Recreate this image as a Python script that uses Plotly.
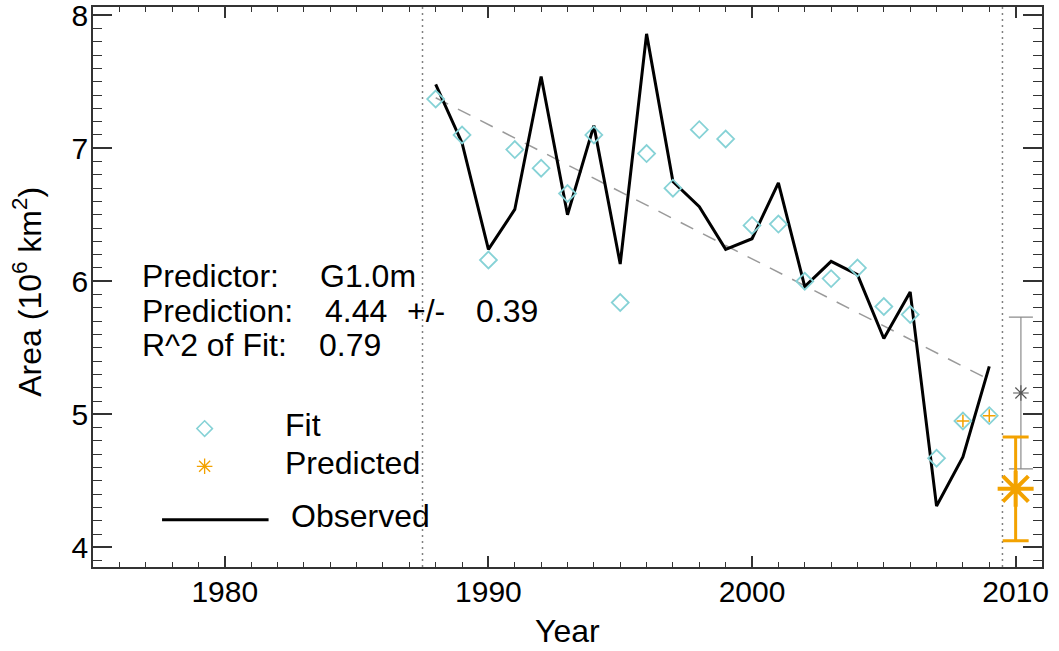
import plotly.graph_objects as go

# ---------------- data ----------------
years = list(range(1988, 2010))
observed = [7.48, 7.04, 6.24, 6.54, 7.54, 6.50, 7.17, 6.13, 7.86, 6.75, 6.56,
            6.24, 6.32, 6.74, 5.96, 6.15, 6.05, 5.57, 5.92, 4.31, 4.68, 5.36]
fit = [7.37, 7.10, 6.16, 6.99, 6.85, 6.66, 7.10, 5.84, 6.96, 6.70, 7.14,
       7.07, 6.42, 6.43, 6.00, 6.02, 6.10, 5.81, 5.75, 4.67, 4.95, 4.99]
trend_years = [1988, 2009]
trend_vals = [7.38, 5.26]
recent_pred_years = [2008, 2009]
recent_pred_vals = [4.95, 4.99]
pred_year = [2010]
pred_val = [4.44]
pred_err = [0.39]
alt_year = [2010.2]
alt_val = [5.16]
alt_err = [0.57]
divider_years = [1987.5, 2009.5]
x_tickvals = [1980, 1990, 2000, 2010]
y_tickvals = [4, 5, 6, 7, 8]

predictor = "G1.0m"
prediction_txt = "4.44"
pm_txt = "0.39"
r2_txt = "0.79"

# ---------------- layout geometry ----------------
W, H = 1059, 651
L, R, T, B = 92.6, 16.7, 6.7, 84.3
PW, PH = W - L - R, H - T - B
XR = [1975, 2011]
YR = [3.852, 8.062]

FONT = "Liberation Sans, Arial, Helvetica, sans-serif"
FS = 32
TFS = 30
CYAN = "#86d2d6"
ORANGE = "#f3a200"


def px2x(px):
    return XR[0] + (px - L) / PW * (XR[1] - XR[0])


def py2y(py):
    return YR[1] - (py - T) / PH * (YR[1] - YR[0])


def pxp(px):
    return (px - L) / PW


def pyp(py):
    return 1 - (py - T) / PH


fig = go.Figure()

# trend (dashed)
fig.add_trace(go.Scatter(x=trend_years, y=trend_vals, mode="lines",
                         line=dict(color="#9a9a9a", width=1.5, dash="14px,11px"),
                         showlegend=False, hoverinfo="skip"))
# observed
fig.add_trace(go.Scatter(x=years, y=observed, mode="lines",
                         line=dict(color="black", width=3),
                         showlegend=False))
# fit diamonds
fig.add_trace(go.Scatter(x=years, y=fit, mode="markers",
                         marker=dict(symbol="diamond-open", size=13,
                                     line=dict(color=CYAN, width=1.8), color=CYAN),
                         showlegend=False))
# small predicted crosses
fig.add_trace(go.Scatter(x=recent_pred_years, y=recent_pred_vals, mode="markers",
                         marker=dict(symbol="cross-thin-open", size=9,
                                     line=dict(color=ORANGE, width=1.5), color=ORANGE),
                         showlegend=False))
# gray alternative prediction
fig.add_trace(go.Scatter(x=alt_year, y=alt_val, mode="markers",
                         marker=dict(symbol="asterisk-open", size=13,
                                     line=dict(color="#555555", width=1.2), color="#555555"),
                         error_y=dict(type="data", array=alt_err, color="#8c8c8c",
                                      thickness=1.2, width=12),
                         showlegend=False))
# orange prediction
fig.add_trace(go.Scatter(x=pred_year, y=pred_val, mode="markers",
                         marker=dict(symbol="asterisk-open", size=30,
                                     line=dict(color=ORANGE, width=4), color=ORANGE),
                         error_y=dict(type="data", array=pred_err, color=ORANGE,
                                      thickness=3, width=13),
                         showlegend=False))

# legend glyphs
fig.add_trace(go.Scatter(x=[px2x(204.3)], y=[py2y(428.3)], mode="markers",
                         marker=dict(symbol="diamond-open", size=12,
                                     line=dict(color=CYAN, width=1.5), color=CYAN),
                         showlegend=False, hoverinfo="skip"))
fig.add_trace(go.Scatter(x=[px2x(204.3)], y=[py2y(466)], mode="markers",
                         marker=dict(symbol="asterisk-open", size=13,
                                     line=dict(color=ORANGE, width=1.3), color=ORANGE),
                         showlegend=False, hoverinfo="skip"))
fig.add_trace(go.Scatter(x=[px2x(161.7), px2x(268.3)], y=[py2y(519.5)] * 2, mode="lines",
                         line=dict(color="black", width=3),
                         showlegend=False, hoverinfo="skip"))

# dotted dividers
for xv in divider_years:
    fig.add_shape(type="line", xref="x", yref="paper", x0=xv, x1=xv, y0=0, y1=1,
                  line=dict(color="#808080", width=1.5, dash="2px,4px"), layer="below")

# text annotations
texts = [
    ("Predictor:", 139.5, 275.8), (predictor, 318, 275.8),
    ("Prediction:", 139.5, 310.8), (prediction_txt, 323, 310.8),
    ("+/-", 405, 310.8), (pm_txt, 473.5, 310.8),
    ("R^2 of Fit:", 139.5, 344.2), (r2_txt, 317, 344.2),
    ("Fit", 282.5, 425), ("Predicted", 282.5, 463), ("Observed", 288.5, 516),
]
for t, px, py in texts:
    fig.add_annotation(text=t, xref="paper", yref="paper", x=pxp(px), y=pyp(py),
                       xanchor="left", yanchor="middle", showarrow=False,
                       font=dict(family=FONT, size=FS, color="black"))

# axis titles
fig.add_annotation(text="Year", xref="paper", yref="paper", x=pxp(567.5), y=pyp(631),
                   xanchor="center", yanchor="middle", showarrow=False,
                   font=dict(family=FONT, size=FS, color="black"))
fig.add_annotation(text="Area (10<sup>6</sup> km<sup>2</sup>)", xref="paper", yref="paper",
                   x=pxp(27), y=pyp(291), textangle=-90,
                   xanchor="center", yanchor="middle", showarrow=False,
                   font=dict(family=FONT, size=FS, color="black"))

axis_common = dict(showgrid=False, zeroline=False, showline=True, linecolor="#333333",
                   linewidth=1.5, mirror="ticks", ticks="inside", tickcolor="#333333",
                   tickwidth=1.5, ticklabeloverflow="allow", automargin=False,
                   tickfont=dict(family=FONT, size=TFS, color="black"))

fig.update_xaxes(range=XR, tickvals=x_tickvals, ticklen=11, ticklabelstandoff=-3,
                 minor=dict(dtick=1, tick0=1975, ticklen=5.5, ticks="inside",
                            tickcolor="#333333", tickwidth=1.2, showgrid=False),
                 **axis_common)
fig.update_yaxes(range=YR, tickvals=y_tickvals, ticklen=19, ticklabelstandoff=-3,
                 minor=dict(dtick=0.1, tick0=4, ticklen=9, ticks="inside",
                            tickcolor="#333333", tickwidth=1.2, showgrid=False),
                 **axis_common)

fig.update_layout(width=W, height=H, autosize=False,
                  margin=dict(l=L, r=R, t=T, b=B, pad=0, autoexpand=False),
                  paper_bgcolor="white", plot_bgcolor="white",
                  showlegend=False, font=dict(family=FONT, size=FS, color="black"))

fig.write_html("out.html")
